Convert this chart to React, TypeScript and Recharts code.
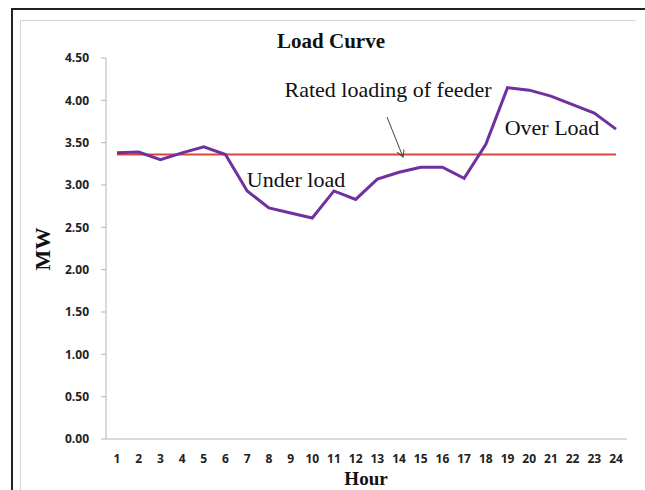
import React from "react";
import { CartesianGrid, Line, LineChart, XAxis, YAxis } from "recharts";

const hours = ["1", "2", "3", "4", "5", "6", "7", "8", "9", "10", "11", "12", "13", "14", "15", "16", "17", "18", "19", "20", "21", "22", "23", "24"];
const loadMW = [3.38, 3.39, 3.3, 3.38, 3.45, 3.36, 2.93, 2.73, 2.67, 2.61, 2.93, 2.83, 3.07, 3.15, 3.21, 3.21, 3.08, 3.48, 4.15, 4.12, 4.05, 3.95, 3.85, 3.66];
const ratedMW = 3.36;
const yTicks = [0, 0.5, 1, 1.5, 2, 2.5, 3, 3.5, 4, 4.5];

const data = hours.map((h, i) => ({ hour: h, load: loadMW[i], rated: ratedMW }));

const SERIF = "'Liberation Serif', 'Times New Roman', serif";
const TICK = { fill: "#222", fontSize: 12, fontWeight: 700, fontFamily: "'Open Sans', sans-serif" };

export default function App() {
  return (
    <div style={{ position: "absolute", top: 0, left: 0, width: 645, height: 490, background: "#fff", overflow: "hidden" }}>
      {/* outer dark frame + inner light frame */}
      <div style={{ position: "absolute", left: 11, top: 8, width: 640, height: 490, borderTop: "2px solid #222", borderLeft: "2px solid #222" }} />
      <div style={{ position: "absolute", left: 20, top: 20, width: 615, height: 480, borderTop: "1px solid #d4d4d4", borderLeft: "1px solid #d4d4d4" }} />
      <div style={{ position: "absolute", left: 0, top: 0 }}>
        <LineChart width={645} height={490} data={data} margin={{ top: 58, right: 18, bottom: 21, left: 46 }}>
          <CartesianGrid stroke="none" />
          <XAxis
            dataKey="hour"
            height={30}
            padding={{ left: 11, right: 11 }}
            tick={TICK}
            tickLine={false}
            tickSize={6}
            tickMargin={9}
            interval={0}
            axisLine={{ stroke: "#b5b5b5" }}
          />
          <YAxis
            width={60}
            domain={[0, 4.5]}
            ticks={yTicks}
            tickFormatter={(v: number) => v.toFixed(2)}
            tick={TICK}
            tickSize={5}
            tickMargin={12}
            tickLine={{ stroke: "#b5b5b5" }}
            axisLine={{ stroke: "#b5b5b5" }}
          />
          <Line dataKey="rated" stroke="#d9463f" strokeWidth={2} dot={false} isAnimationActive={false} />
          <Line dataKey="load" stroke="#7030a0" strokeWidth={3} dot={false} isAnimationActive={false} />
        </LineChart>
      </div>
      <svg width={645} height={490} style={{ position: "absolute", left: 0, top: 0, pointerEvents: "none" }}>
        <defs>
          <marker id="ah" markerWidth="8" markerHeight="8" refX="7" refY="4" orient="auto">
            <path d="M0,0 L7,4 L0,8" fill="none" stroke="#444" strokeWidth="1" />
          </marker>
        </defs>
        <text x={331} y={48} textAnchor="middle" fontFamily={SERIF} fontWeight={700} fontSize={21} fill="#111">Load Curve</text>
        <text x={388} y={97} textAnchor="middle" fontFamily={SERIF} fontSize={22} fill="#111">Rated loading of feeder</text>
        <text x={296} y={187} textAnchor="middle" fontFamily={SERIF} fontSize={22} fill="#111">Under load</text>
        <text x={552} y={135} textAnchor="middle" fontFamily={SERIF} fontSize={22} fill="#111">Over Load</text>
        <line x1={387} y1={117} x2={403} y2={157} stroke="#444" strokeWidth={1} markerEnd="url(#ah)" />
        <text x={366} y={485} textAnchor="middle" fontFamily={SERIF} fontWeight={700} fontSize={19} fill="#111">Hour</text>
        <text transform="translate(50,249) rotate(-90)" textAnchor="middle" fontFamily={SERIF} fontWeight={700} fontSize={22} fill="#111">MW</text>
      </svg>
    </div>
  );
}
